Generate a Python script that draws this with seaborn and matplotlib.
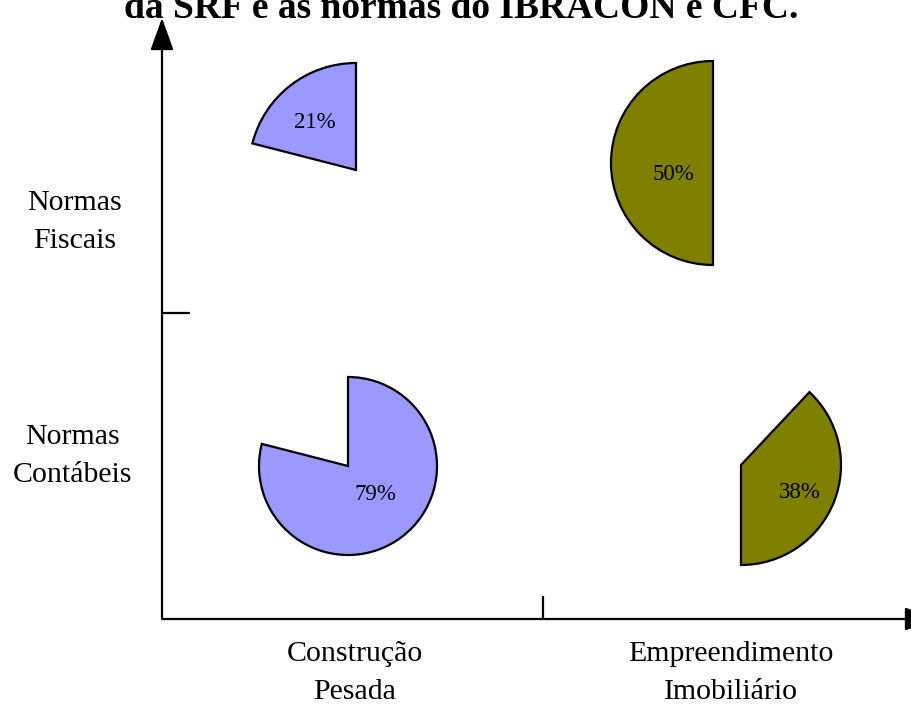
import matplotlib
matplotlib.use("Agg")
import matplotlib.pyplot as plt
import seaborn as sns

# Data: share of each norm type per sector (%)
sectors = ["Construção\nPesada", "Empreendimento\nImobiliário"]
norm_types = ["Normas\nFiscais", "Normas\nContábeis"]
fiscais = [21, 50]
contabeis = [79, 38]
title_line = "da SRF e as normas do IBRACON e CFC."

colors = ["#9999FF", "#808000"]

sns.set_theme(style="white")
plt.rcParams["font.family"] = ["Liberation Serif", "DejaVu Serif"]

W, H = 912, 704
fig = plt.figure(figsize=(W / 100, H / 100), dpi=100)
fig.patch.set_facecolor("white")

# Plot frame in pixel units (origin at the axis corner)
x0, y0, fw, fh = 162, 86, 750, 600
ax = fig.add_axes([x0 / W, y0 / H, fw / W, fh / H])
ax.set_facecolor("white")

# Layout of each pie: centre, radius and label offset (pixels)
pie_layout = {
    (0, 0): dict(center=(194, 448), radius=107, text=(-41, 47)),
    (0, 1): dict(center=(186, 152), radius=89, text=(27, -28)),
    (1, 0): dict(center=(551, 455), radius=102, text=(-40, -12)),
    (1, 1): dict(center=(579, 153), radius=100, text=(59, -27)),
}

for i, sector in enumerate(sectors):
    values = [fiscais[i], contabeis[i], max(0, 100 - fiscais[i] - contabeis[i])]
    for j in range(2):
        lay = pie_layout[(i, j)]
        wedges, _ = ax.pie(values, center=lay["center"], radius=lay["radius"],
                           startangle=90, counterclock=True, frame=True,
                           colors=[colors[i]] * 3,
                           wedgeprops=dict(edgecolor="black", linewidth=1.6))
        for k, w in enumerate(wedges):
            w.set_clip_on(False)
            if k != j:
                w.set_visible(False)
        v = values[j]
        cx, cy = lay["center"]
        dx, dy = lay["text"]
        ax.text(cx + dx, cy + dy, f"{v}%", ha="center", va="center",
                fontsize=16.5, color="black")

ax.set_xlim(0, fw)
ax.set_ylim(0, fh)
ax.set_aspect("equal", adjustable="box")
ax.set_axis_off()

# Axes with arrow heads
arrow = dict(arrowstyle="-|>,head_length=1.25,head_width=0.45", lw=1.6,
             color="black", shrinkA=0, shrinkB=0, mutation_scale=16)
ax.annotate("", xy=(0, fh), xytext=(0, 0), arrowprops=arrow,
            annotation_clip=False)
ax.annotate("", xy=(fw + 25, -1), xytext=(0, -1), arrowprops=arrow,
            annotation_clip=False)

# Category separators
ax.plot([0, 27], [305, 305], color="black", lw=1.6, clip_on=False)
ax.plot([381, 381], [0, 21], color="black", lw=1.6, clip_on=False)

# Category labels
label_font = dict(fontsize=21.5, color="black", linespacing=1.6,
                  ha="center", va="center")
for lbl, x in zip(sectors, [193, 569]):
    ax.text(x, -55, lbl, clip_on=False, **label_font)
for lbl, y, x in zip(norm_types, [396, 162], [-87, -89]):
    ax.text(x, y, lbl, clip_on=False, **label_font)

# Title (second line sits at the top edge)
fig.text(461 / W, 1 - 18 / H, title_line, ha="center", va="baseline",
         fontsize=27, fontweight="bold", color="black")

fig.savefig("out.png", dpi=100, facecolor="white")
